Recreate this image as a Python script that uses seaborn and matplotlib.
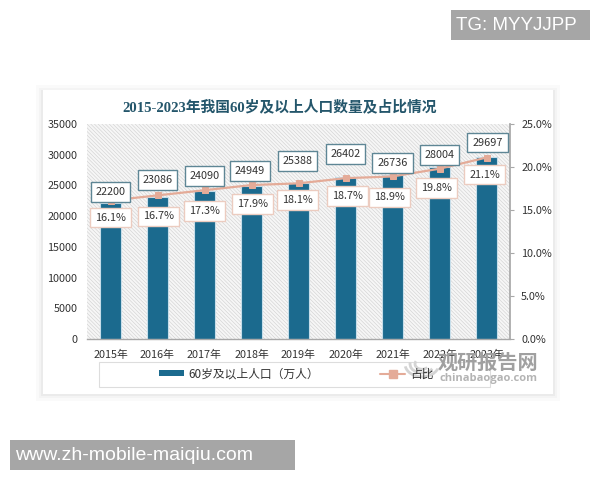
import matplotlib
matplotlib.use('Agg')
import matplotlib.pyplot as plt
from matplotlib.patches import Rectangle, Arc
from matplotlib.lines import Line2D
import pandas as pd
import seaborn as sns

# values
years = ['2015年', '2016年', '2017年', '2018年', '2019年', '2020年', '2021年', '2022年', '2023年']
population = [22200, 23086, 24090, 24949, 25388, 26402, 26736, 28004, 29697]
share = [16.1, 16.7, 17.3, 17.9, 18.1, 18.7, 18.9, 19.8, 21.1]
left_ticks = [0, 5000, 10000, 15000, 20000, 25000, 30000, 35000]
right_ticks = [0, 5, 10, 15, 20, 25]

# label nudges in pixels, the boxes sit unevenly in the original
pop_dx = [0, 0, 0, -2, -1, 0, 0, 0, 1]
pop_dy = [11, 17, 15, 15, 22, 23, 12, 12, 14]
share_dx = [0, 1, 0, 1, -1, 2, -3, -3, -2]
share_dy = [-17, -21, -21, -19, -17, -18, -21, -19, -17]

BAR = '#1b6a8e'
LINE = '#e4ab98'
TEXT = '#333333'
CJK = ['Noto Sans CJK SC', 'DejaVu Sans']

sns.set_theme(style='white')
plt.rcParams['font.family'] = CJK
plt.rcParams['hatch.linewidth'] = 0.4

fig = plt.figure(figsize=(6, 4.8), dpi=100, facecolor='white')


def fx(x):
    return x / 600


def fy(y):
    return 1 - y / 480


def box(x0, y0, x1, y1, **kw):
    # rectangle in picture pixels, y going down
    r = Rectangle((fx(x0), fy(y1)), fx(x1 - x0), (y1 - y0) / 480, transform=fig.transFigure, **kw)
    fig.add_artist(r)
    return r


# card with soft shadow
for grow, c in [(7, '#fafafa'), (4, '#f4f4f4'), (2, '#ebebeb')]:
    box(43 - grow, 90 - grow + 2, 553 + grow, 394 + grow, facecolor=c, edgecolor='none', zorder=-3)
box(43, 90, 553, 394, facecolor='white', edgecolor='none', zorder=-2)

ax = fig.add_axes([fx(87), fy(339), fx(423), 215 / 480])
ax.patch.set_facecolor('#f6f6f6')
ax.patch.set_hatch('\\' * 9)
ax.patch.set_edgecolor('#cfcfcf')
ax.patch.set_linewidth(0)

df = pd.DataFrame({'year': years, 'population': population, 'share': share})
sns.barplot(data=df, x='year', y='population', color=BAR, saturation=1, width=0.43,
            edgecolor='#c6dde9', linewidth=0.8, ax=ax)
ax.set_xlim(-0.5, 8.5)
ax.set_ylim(0, 35000)
ax.set_yticks(left_ticks)
ax.set_xlabel('')
ax.set_ylabel('')
ax.tick_params(axis='y', length=0, pad=7, labelsize=7.8, labelcolor=TEXT)
ax.tick_params(axis='x', length=0, pad=8, labelsize=7.8, labelcolor=TEXT)
for s in ['top', 'left', 'right']:
    ax.spines[s].set_visible(False)
ax.spines['bottom'].set_color('#a8a8a8')
ax.spines['bottom'].set_linewidth(1)

ax2 = ax.twinx()
sns.lineplot(data=df, x='year', y='share', color=LINE, linewidth=1.6, marker='s', markersize=5,
             markeredgecolor=LINE, sort=False, ax=ax2)
ax2.patch.set_visible(False)
ax2.set_xlim(-0.5, 8.5)
ax2.set_ylim(0, 25)
ax2.set_yticks(right_ticks)
ax2.set_yticklabels(['%.1f%%' % t for t in right_ticks])
ax2.set_xlabel('')
ax2.set_ylabel('')
ax2.tick_params(axis='y', length=3, width=0.8, color='#a8a8a8', pad=5, labelsize=7.8, labelcolor=TEXT, right=True)
for s in ['top', 'left', 'bottom']:
    ax2.spines[s].set_visible(False)
ax2.spines['right'].set_color('#a8a8a8')

for i in range(len(years)):
    ax2.annotate(str(population[i]), xy=(i, population[i]), xycoords=ax.transData,
                 xytext=(pop_dx[i], pop_dy[i]), textcoords='offset pixels', ha='center', va='center',
                 fontsize=7.8, color=TEXT,
                 bbox=dict(boxstyle='square,pad=0.45', facecolor='white', edgecolor='#5e8695', linewidth=1))
    ax2.annotate('%.1f%%' % share[i], xy=(i, share[i]),
                 xytext=(share_dx[i], share_dy[i]), textcoords='offset pixels', ha='center', va='center',
                 fontsize=7.8, color=TEXT,
                 bbox=dict(boxstyle='square,pad=0.45', facecolor='white', edgecolor='#ecccc0', linewidth=1))

fig.text(fx(280), fy(107), '2015-2023年我国60岁及以上人口数量及占比情况', ha='center', va='center',
         fontsize=10.6, fontweight='bold', color='#24566b', family=['Liberation Serif', 'Noto Sans CJK SC'])

# legend sits in a wide frame of its own
box(99, 362, 490, 387, facecolor='white', edgecolor='#dddddd', linewidth=0.8, zorder=2)

# watermark, the legend text stays on top of the logo
for w, a1, a2 in [(34, 190, 340), (24, 170, 330), (14, 150, 320)]:
    fig.add_artist(Arc((fx(422), fy(364)), w / 600, w * 0.75 / 480, theta1=a1, theta2=a2,
                       color='#d4d4d4', linewidth=2, transform=fig.transFigure, zorder=2.5))
fig.text(fx(488), fy(362), '观研报告网', ha='center', va='center', fontsize=14.5, fontweight='bold',
         color='#a0a0a0', zorder=4)
fig.text(fx(488), fy(379), 'chinabaogao.com', ha='center', va='center', fontsize=8, fontweight='bold',
         color='#b4b4b4', zorder=4, family=['Open Sans', 'DejaVu Sans'])

handles = [Rectangle((0, 0), 1, 1, facecolor=BAR, edgecolor='none'),
           Line2D([0], [0], color=LINE, linewidth=1.5, marker='s', markersize=6)]
leg = fig.legend(handles, ['60岁及以上人口（万人）', '占比'], ncol=2, frameon=False, fontsize=8.5,
                 loc='center', bbox_to_anchor=(fx(296), fy(374)), columnspacing=5.2,
                 handlelength=2.1, handleheight=0.45, handletextpad=0.4, labelcolor=TEXT)
leg.set_zorder(3)

# grey banners of the repost
box(451, 10, 590, 40, facecolor='#a6a6a6', edgecolor='none', zorder=5)
box(10, 440, 295, 470, facecolor='#a6a6a6', edgecolor='none', zorder=5)
fig.text(fx(456), fy(26), 'TG: MYYJJPP', ha='left', va='center', fontsize=13.5, color='white', zorder=6,
         family=['Liberation Sans'])
fig.text(fx(15), fy(455), 'www.zh-mobile-maiqiu.com', ha='left', va='center', fontsize=14, color='white',
         zorder=6, family=['Liberation Sans'])

fig.savefig('out.png', dpi=100)
